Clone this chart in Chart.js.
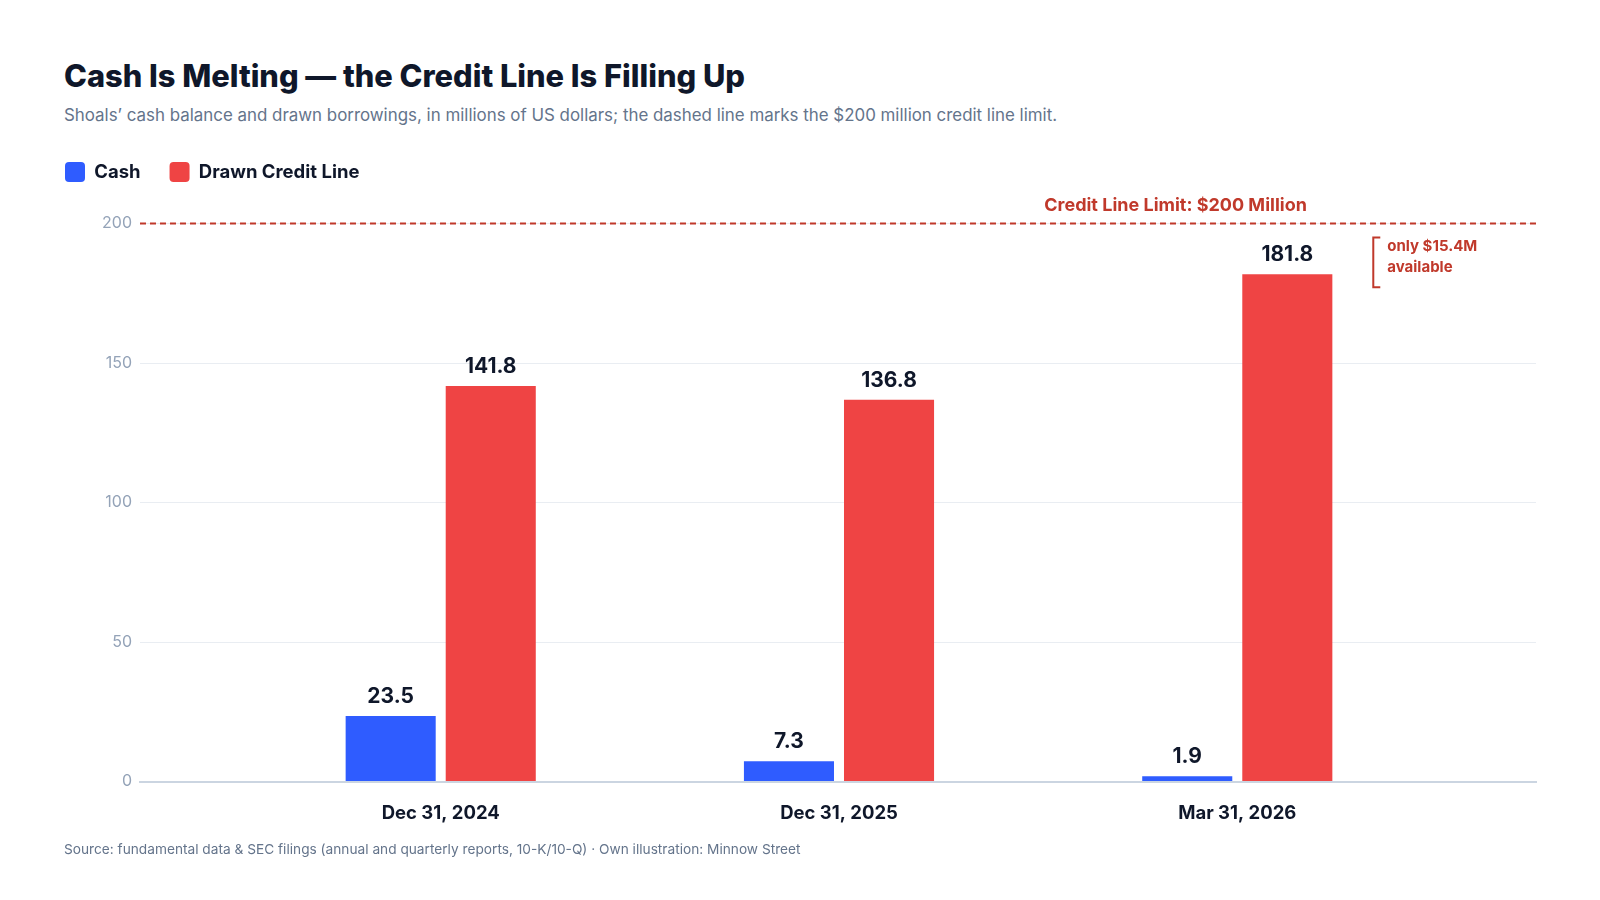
<!DOCTYPE html>
<html>
<head>
<meta charset="utf-8">
<script src="https://cdn.jsdelivr.net/npm/chart.js@4.4.1/dist/chart.umd.min.js"></script>
<style>
  html, body { margin: 0; padding: 0; background: #fff; }
  body { width: 1600px; height: 900px; position: relative; overflow: hidden; font-family: Inter, "Noto Sans", sans-serif; }
  #chart { position: absolute; left: 0; top: 0; width: 1600px; height: 900px; }
  h1 { position: absolute; left: 64px; top: 58px; margin: 0; font-size: 30.8px; line-height: 36px; font-weight: 800; color: #0f172a; }
  .sub { position: absolute; left: 64px; top: 103px; margin: 0; font-size: 16.9px; line-height: 24px; color: #64748b; }
  .src { position: absolute; left: 64px; top: 840px; margin: 0; font-size: 13.7px; line-height: 18px; color: #64748b; }
</style>
</head>
<body>
<h1>Cash Is Melting — the Credit Line Is Filling Up</h1>
<p class="sub">Shoals’ cash balance and drawn borrowings, in millions of US dollars; the dashed line marks the $200 million credit line limit.</p>
<canvas id="chart" width="1600" height="900"></canvas>
<p class="src">Source: fundamental data &amp; SEC filings (annual and quarterly reports, 10-K/10-Q) · Own illustration: Minnow Street</p>
<script>
// values in $ millions
const dates = ['Dec 31, 2024', 'Dec 31, 2025', 'Mar 31, 2026'];
const cash = [23.5, 7.3, 1.9];
const drawn = [141.8, 136.8, 181.8];
const creditLimit = 200;
const yTicks = [0, 50, 100, 150, 200];

const RED_DARK = '#c0392b';
const INK = '#0f172a';

// extra room between legend and plot
const legendGap = 31.5;
const legendSpacer = {
  id: 'legendSpacer',
  beforeLayout(chart) {
    const lg = chart.legend;
    if (lg && !lg._spaced) {
      const fit = lg.fit;
      lg.fit = function () { fit.call(this); this.height += legendGap; };
      lg._spaced = true;
    }
  }
};

const annotations = {
  id: 'annotations',
  afterDatasetsDraw(chart) {
    const { ctx, chartArea, scales: { x, y } } = chart;
    ctx.save();

    // value labels on top of bars
    ctx.font = 'bold 21px Inter';
    ctx.fillStyle = INK;
    ctx.textAlign = 'center';
    ctx.textBaseline = 'alphabetic';
    chart.data.datasets.forEach((ds, di) => {
      chart.getDatasetMeta(di).data.forEach((bar, i) => {
        ctx.fillText(ds.data[i].y.toFixed(1), bar.x, bar.y - 13);
      });
    });

    // credit line limit
    const yl = y.getPixelForValue(creditLimit);
    ctx.strokeStyle = RED_DARK;
    ctx.lineWidth = 2;
    ctx.setLineDash([6, 4]);
    ctx.beginPath();
    ctx.moveTo(chartArea.left, yl);
    ctx.lineTo(chartArea.right, yl);
    ctx.stroke();
    ctx.setLineDash([]);

    ctx.fillStyle = RED_DARK;
    ctx.font = 'bold 18px Inter';
    ctx.fillText('Credit Line Limit: $200 Million', x.getPixelForValue(1.845), yl - 13);

    // bracket for headroom
    const last = drawn.length - 1;
    const bx = x.getPixelForValue(last) + 136;
    const top = y.getPixelForValue(creditLimit) + 14;
    const bot = y.getPixelForValue(drawn[last]) + 13;
    ctx.lineWidth = 2;
    ctx.beginPath();
    ctx.moveTo(bx + 7, top);
    ctx.lineTo(bx, top);
    ctx.lineTo(bx, bot);
    ctx.lineTo(bx + 7, bot);
    ctx.stroke();
    ctx.font = 'bold 15px Inter';
    ctx.textAlign = 'left';
    ctx.fillText('only $15.4M', bx + 14, top + 13);
    ctx.fillText('available', bx + 14, top + 34);
    ctx.restore();
  }
};

new Chart(document.getElementById('chart'), {
  type: 'bar',
  data: {
    datasets: [
      {
        label: 'Cash',
        data: cash.map((v, i) => ({ x: i, y: v })),
        backgroundColor: '#2f5cff',
        categoryPercentage: 0.5025,
        barPercentage: 0.9
      },
      {
        label: 'Drawn Credit Line',
        data: drawn.map((v, i) => ({ x: i, y: v })),
        backgroundColor: '#ef4444',
        categoryPercentage: 0.5025,
        barPercentage: 0.9
      }
    ]
  },
  options: {
    responsive: false,
    maintainAspectRatio: false,
    animation: false,
    layout: { padding: { left: 36, right: 64, top: 133, bottom: 58.4 } },
    plugins: {
      legend: {
        align: 'start',
        labels: {
          boxWidth: 20,
          boxHeight: 20,
          useBorderRadius: true,
          borderRadius: 4,
          padding: 29,
          color: INK,
          font: { family: 'Inter', size: 18.5, weight: 'bold' }
        }
      },
      tooltip: { enabled: false }
    },
    scales: {
      x: {
        type: 'linear',
        min: -0.755,
        max: 2.75,
        offset: false,
        grid: { display: false, offset: false },
        border: { display: true, color: '#cbd5e1', width: 2 },
        afterBuildTicks: (scale) => { scale.ticks = dates.map((d, i) => ({ value: i })); },
        afterFit: (scale) => { scale.height = 60; },
        ticks: {
          autoSkip: false,
          maxRotation: 0,
          padding: 13,
          color: INK,
          font: { family: 'Inter', size: 18.5, weight: 'bold' },
          callback: (v) => dates[v]
        }
      },
      y: {
        min: 0,
        max: 200,
        afterFit: (scale) => { scale.width = 140 - 36; },
        afterBuildTicks: (scale) => { scale.ticks = yTicks.map(v => ({ value: v })); },
        grid: { color: '#e9edf2', drawTicks: false },
        border: { display: false },
        ticks: {
          padding: 8,
          color: '#94a3b8',
          font: { family: 'Inter', size: 16 }
        }
      }
    }
  },
  plugins: [legendSpacer, annotations]
});
</script>
</body>
</html>
